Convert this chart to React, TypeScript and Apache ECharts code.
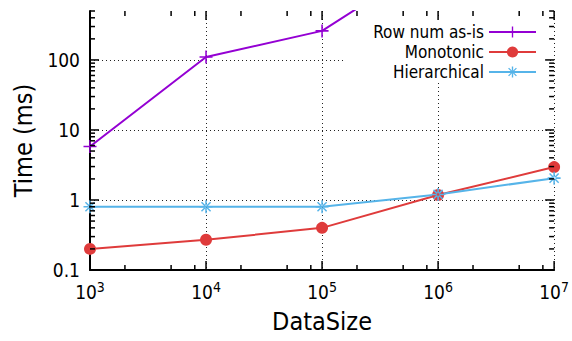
import React, { useEffect, useRef } from "react";
import * as echarts from "echarts";

const dataSizes = [1e3, 1e4, 1e5, 1e6, 1e7];
const rowNumAsIs = [5.8, 110, 260, 3000];
const monotonic = [0.2, 0.27, 0.4, 1.18, 2.95];
const hierarchical = [0.8, 0.8, 0.8, 1.2, 2.05];

const X_MIN = 1e3;
const X_MAX = 1e7;
const Y_MIN = 0.1;
const Y_MAX = 500;
const xMajorTicks = [1e3, 1e4, 1e5, 1e6, 1e7];
const xMinorFactors = [2, 5, 8];
const yMajorTicks = [0.1, 1, 10, 100];
const yMinorFactors = [2, 3, 4, 5, 6, 7, 8, 9];

const FONT = "'DejaVu Sans Condensed', 'DejaVu Sans', sans-serif";

const PLUS = "path://M-1,-0.12H1V0.12H-1Z M-0.12,-1H0.12V1H-0.12Z";
const STAR =
  "path://M-1,-0.12H1V0.12H-1Z M-0.12,-1H0.12V1H-0.12Z M-0.78,-0.62L0.62,0.78L0.78,0.62L-0.62,-0.78Z M0.62,-0.78L-0.78,0.62L-0.62,0.78L0.78,-0.62Z";

function pairs(vals: number[]) {
  return vals.map((v, i) => [dataSizes[i], v]);
}

export default function App() {
  const ref = useRef<HTMLDivElement>(null);
  useEffect(() => {
    if (!ref.current) return;
    const chart = echarts.init(ref.current, undefined, { renderer: "svg" });

    const yMinor: number[] = [];
    yMajorTicks.forEach((d) =>
      yMinorFactors.forEach((f) => {
        const v = d * f;
        if (v <= Y_MAX * 1.0001) yMinor.push(v);
      })
    );
    const xMinor: number[] = [];
    xMajorTicks.forEach((d) =>
      xMinorFactors.forEach((f) => {
        const v = d * f;
        if (v < X_MAX) xMinor.push(v);
      })
    );

    chart.setOption({
      animation: false,
      backgroundColor: "#fff",
      textStyle: { fontFamily: FONT },
      grid: { left: 90, right: 17, top: 11, bottom: 71 },
      xAxis: {
        type: "log",
        logBase: 10,
        min: X_MIN,
        max: X_MAX,
        name: "DataSize",
        nameLocation: "middle",
        nameGap: 36,
        nameTextStyle: { fontSize: 25, color: "#000", fontFamily: FONT },
        axisLine: { lineStyle: { color: "#000", width: 2 } },
        axisTick: { show: false },
        minorTick: { show: false },
        axisLabel: {
          margin: 10,
          color: "#000",
          fontFamily: FONT,
          fontSize: 19,
          lineHeight: 24,
          formatter: (v: number) => "10{s|" + Math.round(Math.log10(v)) + "}",
          rich: {
            s: { fontSize: 14, lineHeight: 14, verticalAlign: "top", color: "#000", fontFamily: FONT },
          },
        },
        splitLine: { show: true, lineStyle: { color: "#222", width: 1, type: [1, 3] } },
      },
      yAxis: {
        type: "log",
        logBase: 10,
        min: Y_MIN,
        max: Y_MAX,
        name: "Time (ms)",
        nameLocation: "middle",
        nameRotate: 90,
        nameGap: 53,
        nameTextStyle: { fontSize: 25, color: "#000", fontFamily: FONT },
        axisLine: { show: true, lineStyle: { color: "#000", width: 2 } },
        axisTick: { show: false },
        axisLabel: {
          margin: 10,
          color: "#000",
          fontFamily: FONT,
          fontSize: 19,
          showMaxLabel: false,
          formatter: (v: number) => (v < 1 ? String(Number(v.toPrecision(3))) : String(Math.round(v))),
        },
        splitLine: { show: true, showMaxLine: false, lineStyle: { color: "#222", width: 1, type: [1, 3] } },
      },
      legend: {
        data: ["Row num as-is", "Monotonic", "Hierarchical"],
        orient: "vertical",
        align: "right",
        right: 24,
        top: 17,
        padding: [5, 11, 0, 28],
        itemGap: 0,
        itemWidth: 47,
        itemHeight: 14,
        backgroundColor: "#fff",
        z: 1,
        textStyle: { fontSize: 17, color: "#000", fontFamily: FONT, lineHeight: 20 },
      },
      series: [
        {
          name: "Row num as-is",
          type: "line",
          data: pairs(rowNumAsIs),
          clip: true,
          symbol: PLUS,
          symbolSize: 13,
          showAllSymbol: true,
          color: "#9400D3",
          lineStyle: { width: 2, color: "#9400D3" },
          itemStyle: { color: "#9400D3" },
          z: 3,
        },
        {
          name: "Monotonic",
          type: "line",
          data: pairs(monotonic),
          clip: true,
          symbol: "circle",
          symbolSize: 12,
          showAllSymbol: true,
          color: "#DF3B3B",
          lineStyle: { width: 2, color: "#DF3B3B" },
          itemStyle: { color: "#DF3B3B" },
          z: 3,
        },
        {
          name: "Hierarchical",
          type: "line",
          data: pairs(hierarchical),
          clip: true,
          symbol: STAR,
          symbolSize: 13,
          showAllSymbol: true,
          color: "#56B4E9",
          lineStyle: { width: 2, color: "#56B4E9" },
          itemStyle: { color: "#56B4E9" },
          z: 3,
        },
        {
          name: "ticks",
          type: "custom",
          silent: true,
          z: 5,
          data: [[X_MIN, Y_MIN]],
          renderItem: (params: any, api: any) => {
            const children: any[] = [];
            const [xl, yb] = api.coord([X_MIN, Y_MIN]);
            const [xr, yt] = api.coord([X_MAX, Y_MAX]);
            const st = { stroke: "#000", lineWidth: 1.5 };
            const addY = (v: number, len: number) => {
              const y = api.coord([X_MIN, v])[1];
              children.push({ type: "line", shape: { x1: xl, y1: y, x2: xl + len, y2: y }, style: st });
              children.push({ type: "line", shape: { x1: xr, y1: y, x2: xr - len, y2: y }, style: st });
            };
            const addX = (v: number, len: number) => {
              const x = api.coord([v, Y_MIN])[0];
              children.push({ type: "line", shape: { x1: x, y1: yb, x2: x, y2: yb - len }, style: st });
              children.push({ type: "line", shape: { x1: x, y1: yt, x2: x, y2: yt + len }, style: st });
            };
            yMajorTicks.forEach((v) => addY(v, 9));
            yMinor.forEach((v) => addY(v, 5));
            xMajorTicks.forEach((v) => addX(v, 9));
            xMinor.forEach((v) => addX(v, 5));
            return { type: "group", children };
          },
        },
      ],
    });
    return () => chart.dispose();
  }, []);
  return (
    <div
      ref={ref}
      style={{ position: "fixed", left: 0, top: 0, width: 572, height: 341 }}
    />
  );
}
